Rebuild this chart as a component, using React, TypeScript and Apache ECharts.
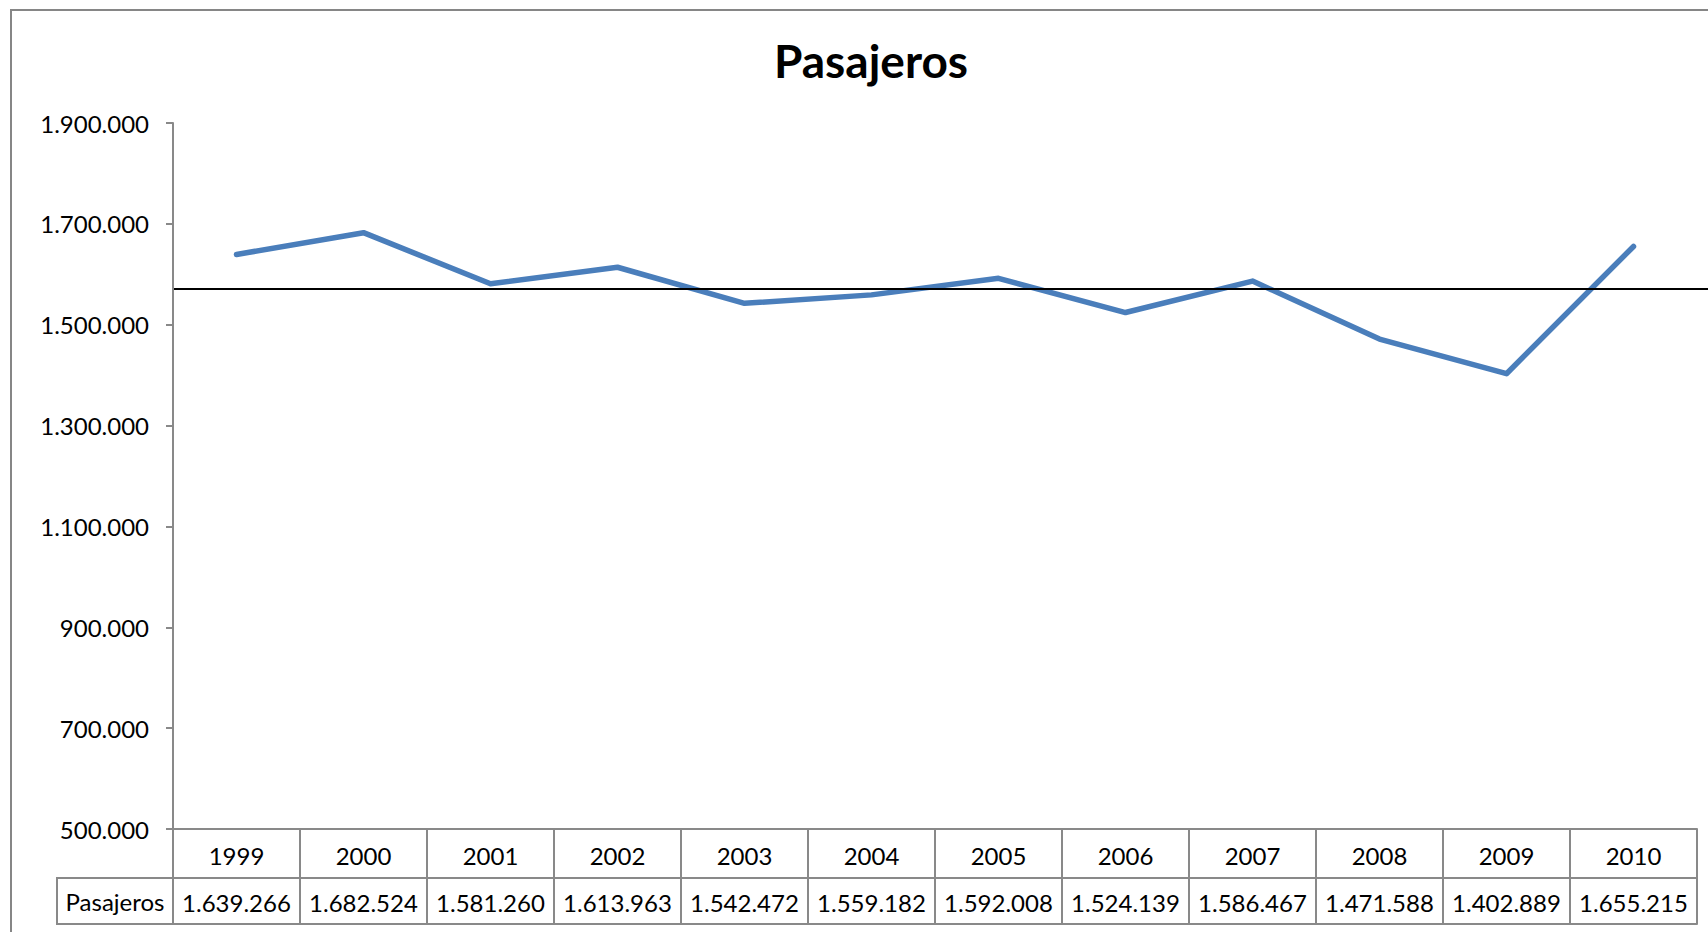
import React, { useEffect, useRef } from "react";
import * as echarts from "echarts";

const title = "Pasajeros";
const seriesName = "Pasajeros";
const years = ["1999", "2000", "2001", "2002", "2003", "2004", "2005", "2006", "2007", "2008", "2009", "2010"];
const passengers = [1639266, 1682524, 1581260, 1613963, 1542472, 1559182, 1592008, 1524139, 1586467, 1471588, 1402889, 1655215];
const yMin = 500000;
const yMax = 1900000;
const yStep = 200000;

const fmt = (v: number) => String(Math.round(v)).replace(/\B(?=(\d{3})+(?!\d))/g, ".");

const FONT = "Lato";
const GRAY = "#898989";

export default function App() {
  const ref = useRef<HTMLDivElement>(null);
  useEffect(() => {
    if (!ref.current) return;
    const chart = echarts.init(ref.current, undefined, { renderer: "svg" });
    const valueLabels = passengers.map(fmt);
    const mean = passengers.reduce((a, b) => a + b, 0) / passengers.length;
    chart.setOption({
      animation: false,
      backgroundColor: "#ffffff",
      title: {
        text: title,
        left: 866,
        top: 32,
        textAlign: "center",
        textStyle: { fontFamily: FONT, fontSize: 46, fontWeight: "bold", color: "#000" },
      },
      grid: { left: 173, top: 123, right: 11, bottom: 103, containLabel: false },
      xAxis: [
        {
          type: "category",
          data: years,
          position: "bottom",
          boundaryGap: true,
          axisLine: { show: true, lineStyle: { color: GRAY, width: 2 } },
          axisTick: { show: true, interval: 0, length: 95, lineStyle: { color: GRAY, width: 2 } },
          axisLabel: { interval: 0, margin: 14, fontFamily: FONT, fontSize: 24, color: "#000" },
          splitLine: { show: false },
        },
        {
          type: "category",
          data: valueLabels,
          position: "bottom",
          offset: 49,
          boundaryGap: true,
          axisLine: { show: true, lineStyle: { color: GRAY, width: 2 } },
          axisTick: { show: false },
          axisLabel: { interval: 0, margin: 12, fontFamily: FONT, fontSize: 24, color: "#000" },
        },
        {
          type: "category",
          data: years,
          position: "bottom",
          offset: 95,
          boundaryGap: true,
          axisLine: { show: true, lineStyle: { color: GRAY, width: 2 } },
          axisTick: { show: false },
          axisLabel: { show: false },
        },
      ],
      yAxis: {
        type: "value",
        min: yMin,
        max: yMax,
        interval: yStep,
        axisLine: { show: true, lineStyle: { color: GRAY, width: 2 } },
        axisTick: { show: true, inside: false, length: 7, lineStyle: { color: GRAY, width: 2 } },
        axisLabel: { margin: 24, fontFamily: FONT, fontSize: 24, color: "#000", formatter: (v: number) => fmt(v) },
        splitLine: { show: false },
      },
      graphic: [
        {
          type: "rect",
          shape: { x: 11, y: 10, width: 1740, height: 960 },
          style: { fill: "none", stroke: "#868686", lineWidth: 2 },
          silent: true,
        },
        {
          type: "rect",
          shape: { x: 57, y: 878, width: 116, height: 46 },
          style: { fill: "none", stroke: GRAY, lineWidth: 2 },
          silent: true,
        },
        {
          type: "text",
          x: 115,
          y: 901,
          style: {
            text: seriesName,
            fontFamily: FONT,
            fontSize: 24,
            fill: "#000",
            align: "center",
            verticalAlign: "middle",
          },
          silent: true,
        },
      ],
      series: [
        {
          name: seriesName,
          type: "line",
          data: passengers,
          xAxisIndex: 0,
          symbol: "none",
          z: 3,
          lineStyle: { color: "#4a7ebb", width: 5.5, cap: "round", join: "round" },
        },
      ],
    });
    // Mean line, positioned through the value axis scale, spanning to the chart's right edge
    const yPix = chart.convertToPixel({ yAxisIndex: 0 }, mean) as number;
    chart.setOption({
      graphic: [
        {
          id: "meanLine",
          type: "line",
          z: 4,
          shape: { x1: 174, y1: yPix, x2: 1708, y2: yPix },
          style: { stroke: "#000", lineWidth: 2 },
          silent: true,
        },
      ],
    });
    return () => chart.dispose();
  }, []);
  return <div ref={ref} style={{ position: "fixed", left: 0, top: 0, width: 1708, height: 932 }} />;
}
